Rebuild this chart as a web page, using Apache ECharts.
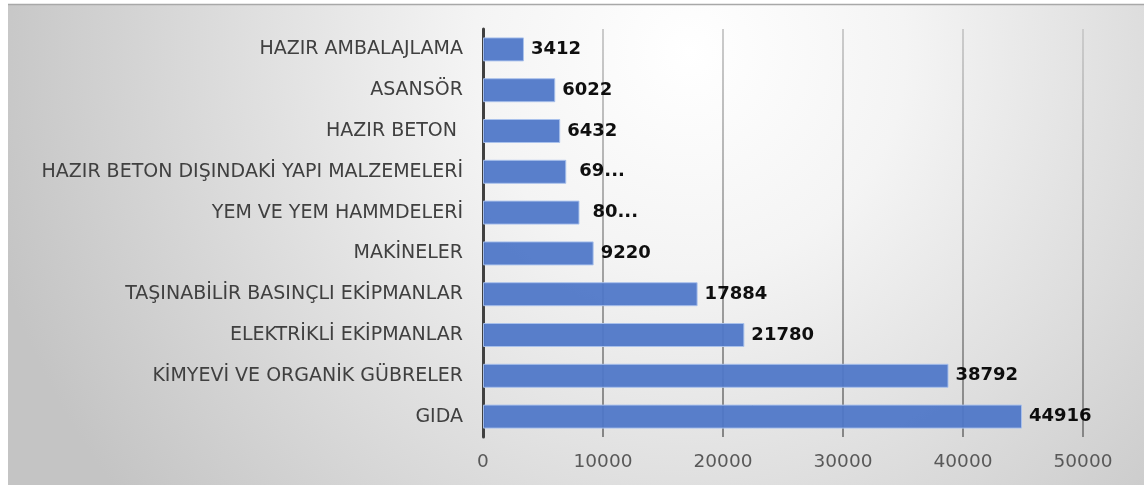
<!DOCTYPE html>
<html>
<head>
<meta charset="utf-8">
<script src="https://cdn.jsdelivr.net/npm/echarts@6/dist/echarts.min.js"></script>
<style>
html,body{margin:0;padding:0;background:#ffffff;}
#chart{width:1144px;height:488px;}
</style>
</head>
<body>
<div id="chart"></div>
<script>
// Categories listed top to bottom
const categories = [
  'HAZIR AMBALAJLAMA',
  'ASANSÖR',
  'HAZIR BETON ',
  'HAZIR BETON DIŞINDAKİ YAPI MALZEMELERİ',
  'YEM VE YEM HAMMDELERİ',
  'MAKİNELER',
  'TAŞINABİLİR BASINÇLI EKİPMANLAR',
  'ELEKTRİKLİ EKİPMANLAR',
  'KİMYEVİ VE ORGANİK GÜBRELER',
  'GIDA'
];
const values = [3412, 6022, 6432, 6940, 8040, 9220, 17884, 21780, 38792, 44916];
const valueLabels = ['3412', '6022', '6432', '69...', '80...', '9220', '17884', '21780', '38792', '44916'];
const xTicks = [0, 10000, 20000, 30000, 40000, 50000];

const chart = echarts.init(document.getElementById('chart'), null, {renderer: 'canvas'});

const barData = values.map((v, i) => ({
  value: v,
  label: {distance: valueLabels[i].endsWith('...') ? 13 : 7}
}));

const option = {
  backgroundColor: '#ffffff',
  animation: false,
  graphic: [
    {
      type: 'rect', z: -10, silent: true,
      shape: {x: 8, y: 4, width: 1136, height: 481},
      style: {
        fill: new echarts.graphic.RadialGradient(0.6, 0.1, 1.5, [
          {offset: 0, color: '#ffffff'},
          {offset: 0.3, color: '#f4f4f4'},
          {offset: 1, color: '#c4c4c4'}
        ])
      }
    },
    {
      type: 'line', z: -9, silent: true,
      shape: {x1: 8, y1: 4.5, x2: 1144, y2: 4.5},
      style: {stroke: '#a8a8a8', lineWidth: 1.5}
    }
  ],
  grid: {left: 483, right: 61, top: 29, bottom: 51, containLabel: false},
  xAxis: {
    type: 'value',
    min: xTicks[0],
    max: xTicks[xTicks.length - 1],
    interval: xTicks[1] - xTicks[0],
    axisLine: {show: false},
    axisTick: {show: false},
    axisLabel: {
      color: '#595959',
      fontFamily: 'DejaVu Sans',
      fontSize: 18.5,
      margin: 16,
      formatter: v => String(v)
    },
    splitLine: {
      show: true,
      lineStyle: {
        width: 2,
        color: new echarts.graphic.LinearGradient(0, 0, 0, 1, [
          {offset: 0, color: '#cccccc'},
          {offset: 1, color: '#858585'}
        ])
      }
    }
  },
  yAxis: {
    type: 'category',
    data: categories,
    inverse: true,
    axisLine: {show: true, lineStyle: {color: '#404040', width: 3}},
    axisTick: {show: false},
    axisLabel: {
      color: '#404040',
      fontFamily: 'DejaVu Sans',
      fontSize: 19,
      margin: 20
    }
  },
  series: [{
    type: 'bar',
    data: barData,
    barWidth: 24,
    z: 1,
    itemStyle: {color: '#4f77c8', borderColor: '#a9c1ec', borderWidth: 1, opacity: 0.94},
    label: {
      show: true,
      position: 'right',
      color: '#000000',
      fontFamily: 'DejaVu Sans',
      fontWeight: 'bold',
      fontSize: 18,
      formatter: p => valueLabels[p.dataIndex]
    }
  }]
};
chart.setOption(option);
</script>
</body>
</html>
